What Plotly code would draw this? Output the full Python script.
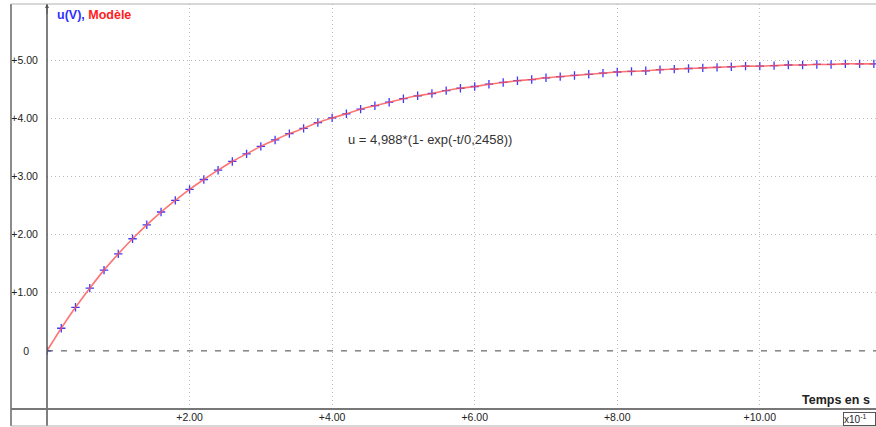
import plotly.graph_objects as go

# time in units of x10^-1 s (as displayed on the axis)
t_disp = [0.0, 0.2, 0.4, 0.6, 0.8, 1.0, 1.2, 1.4, 1.6, 1.8,
          2.0, 2.2, 2.4, 2.6, 2.8, 3.0, 3.2, 3.4, 3.6, 3.8,
          4.0, 4.2, 4.4, 4.6, 4.8, 5.0, 5.2, 5.4, 5.6, 5.8,
          6.0, 6.2, 6.4, 6.6, 6.8, 7.0, 7.2, 7.4, 7.6, 7.8,
          8.0, 8.2, 8.4, 8.6, 8.8, 9.0, 9.2, 9.4, 9.6, 9.8,
          10.0, 10.2, 10.4, 10.6, 10.8, 11.0, 11.2, 11.4, 11.6]

# measured u(V)
u_meas = [0.00, 0.39, 0.75, 1.08, 1.39, 1.67, 1.93, 2.17, 2.39, 2.59,
          2.78, 2.95, 3.11, 3.26, 3.39, 3.52, 3.63, 3.74, 3.83, 3.93,
          4.01, 4.08, 4.16, 4.22, 4.28, 4.34, 4.39, 4.43, 4.48, 4.52,
          4.55, 4.59, 4.62, 4.65, 4.67, 4.70, 4.72, 4.74, 4.76, 4.78,
          4.80, 4.81, 4.82, 4.84, 4.85, 4.86, 4.87, 4.88, 4.89, 4.90,
          4.90, 4.91, 4.92, 4.92, 4.93, 4.93, 4.94, 4.94, 4.94]

# model curve values (Modèle)
u_model = [0.00, 0.39, 0.75, 1.08, 1.39, 1.67, 1.93, 2.17, 2.39, 2.59,
           2.78, 2.95, 3.11, 3.26, 3.39, 3.52, 3.63, 3.74, 3.83, 3.93,
           4.01, 4.08, 4.16, 4.22, 4.28, 4.34, 4.39, 4.43, 4.48, 4.52,
           4.55, 4.59, 4.62, 4.65, 4.67, 4.70, 4.72, 4.74, 4.76, 4.78,
           4.80, 4.81, 4.82, 4.84, 4.85, 4.86, 4.87, 4.88, 4.89, 4.90,
           4.90, 4.91, 4.92, 4.92, 4.93, 4.93, 4.94, 4.94, 4.94]

x_tickvals = [2, 4, 6, 8, 10]
x_ticktext = ["+2.00", "+4.00", "+6.00", "+8.00", "+10.00"]
y_tickvals = [0, 1, 2, 3, 4, 5]
y_ticktext = ["0\u00a0\u00a0\u00a0", "+1.00", "+2.00", "+3.00", "+4.00", "+5.00"]

FONT = "Arial, Liberation Sans, sans-serif"

fig = go.Figure()
fig.add_trace(go.Scatter(
    x=t_disp, y=u_meas, mode="markers", showlegend=False,
    marker=dict(symbol="cross-thin", size=6,
                line=dict(width=1.3, color="#3a3aff")),
))
fig.add_trace(go.Scatter(
    x=t_disp, y=u_model, mode="lines", showlegend=False,
    line=dict(color="rgba(255,80,80,0.8)", width=1.6, shape="spline"),
))

XL = -36 / 829  # left border in paper coords (pixel 11)
YB = -17 / 405  # bottom line in paper coords (pixel 426)

shapes = [
    dict(type="line", xref="paper", yref="y", x0=0, x1=1, y0=0, y1=0,
         line=dict(color="#444", width=1, dash="6px,8px")),
    dict(type="line", xref="paper", yref="paper", x0=0, x1=0, y0=YB, y1=1,
         line=dict(color="#555", width=1.5)),
    dict(type="line", xref="paper", yref="paper", x0=XL, x1=XL, y0=YB, y1=1,
         line=dict(color="#666", width=1.5)),
    dict(type="line", xref="paper", yref="paper", x0=XL, x1=1, y0=1, y1=1,
         line=dict(color="#b0b0b0", width=1)),
    dict(type="line", xref="paper", yref="paper", x0=XL, x1=1, y0=0, y1=0,
         line=dict(color="#777", width=2)),
    dict(type="line", xref="paper", yref="paper", x0=XL, x1=1, y0=YB, y1=YB,
         line=dict(color="#b0b0b0", width=1)),
]

annotations = [
    dict(xref="paper", yref="paper", x=8 / 829, y=(409 - 15) / 405,
         xanchor="left", yanchor="middle", showarrow=False,
         text="<b><span style='color:#3030ff'>u(V),</span> "
              "<span style='color:#ff2020'>Modèle</span></b>",
         font=dict(family=FONT, size=12.5)),
    dict(xref="x", yref="y", x=4.2, y=3.63, xanchor="left", yanchor="middle",
         showarrow=False, text="u = 4,988*(1- exp(-t/0,2458))",
         font=dict(family=FONT, size=13, color="#333")),
    dict(xref="paper", yref="paper", x=1, y=9 / 405, xanchor="right",
         yanchor="middle", xshift=-4, showarrow=False,
         text="<b>Temps en s</b>", font=dict(family=FONT, size=12.5, color="#222")),
    dict(xref="paper", yref="paper", x=1, y=-3 / 405, xanchor="right",
         yanchor="top", showarrow=False, text="x10<sup>-1</sup>\u00a0\u00a0\u00a0",
         bordercolor="#555", borderwidth=1, borderpad=0, bgcolor="white",
         font=dict(family=FONT, size=10, color="#222")),
    dict(xref="paper", yref="paper", x=0, y=1, ax=0, ay=12, text=" ",
         showarrow=True, arrowhead=2, arrowsize=0.8, arrowwidth=1,
         arrowcolor="#555", font=dict(size=1)),
]

fig.update_layout(
    width=876, height=427,
    margin=dict(l=47, r=0, t=4, b=18),
    paper_bgcolor="white", plot_bgcolor="white",
    font=dict(family=FONT, color="#222"),
    shapes=shapes, annotations=annotations,
    xaxis=dict(range=[0, 11.63], tickvals=x_tickvals, ticktext=x_ticktext,
               showgrid=True, gridcolor="#bdbdbd", griddash="1px,3px", gridwidth=1,
               zeroline=False, showline=False, ticks="",
               tickfont=dict(family=FONT, size=10.5, color="#222")),
    yaxis=dict(range=[-1.0, 5.97], tickvals=y_tickvals, ticktext=y_ticktext,
               showgrid=True, gridcolor="#bdbdbd", griddash="1px,3px", gridwidth=1,
               zeroline=True, zerolinecolor="rgba(0,0,0,0)",
               showline=False, ticks="outside", ticklen=6,
               tickcolor="rgba(0,0,0,0)",
               tickfont=dict(family=FONT, size=10.5, color="#222")),
)

fig.write_html("out.html", config={"displayModeBar": False},
               post_script="document.body.style.margin='0';document.body.style.overflow='hidden';")
